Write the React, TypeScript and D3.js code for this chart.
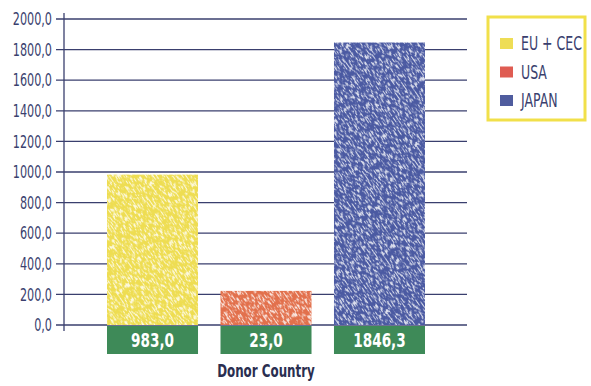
import React from "react";
import * as d3 from "d3";

const categories = ["EU + CEC", "USA", "JAPAN"];
const values = [983.0, 223.0, 1846.3];
const valueLabels = ["983,0", "23,0", "1846,3"];
const yTicks = [0, 200, 400, 600, 800, 1000, 1200, 1400, 1600, 1800, 2000];
const colors = ["#eedd52", "#e2704c", "#4b5aa2"];
const legendColors = ["#eedd55", "#df5c52", "#4f5c9e"];

const FONT = "'DejaVu Sans', sans-serif";
const INK = "#3a3f6e";

function CText({ x, y, anchor = "start", size, sx = 0.78, weight = "normal", fill = INK, children }: any) {
  return (
    <g transform={`translate(${x},${y}) scale(${sx},1)`}>
      <text x={0} y={0} dy="0.36em" textAnchor={anchor} fontFamily={FONT} fontSize={size} fontWeight={weight} fill={fill}>
        {children}
      </text>
    </g>
  );
}

export default function App() {
  const W = 591, H = 386;
  const y = d3.scaleLinear().domain([0, 2000]).range([325, 19]);
  const x = d3.scaleBand<string>().domain(categories).range([107, 425]).paddingInner(0.198).paddingOuter(0);
  const fmt = (v: number) => d3.format(".1f")(v).replace(".", ",");
  return (
    <svg width={W} height={H} style={{ position: "absolute", left: 0, top: 0, background: "#fff" }}>
      <defs>
        <filter id="speck" x="0" y="0" width="100%" height="100%">
          <feTurbulence type="fractalNoise" baseFrequency="0.7 0.2" numOctaves="2" seed="3" result="n" />
          <feColorMatrix in="n" type="matrix" values="0 0 0 0 1  0 0 0 0 1  0 0 0 0 1  0 0 0 -6 3.0" />
        </filter>
        {colors.map((c, i) => (
          <pattern key={i} id={`pat${i}`} patternUnits="userSpaceOnUse" width="120" height="120" patternTransform="rotate(-35)">
            <rect width="120" height="120" fill={c} />
            <rect width="120" height="120" filter="url(#speck)" opacity={0.8} />
          </pattern>
        ))}
      </defs>
      {yTicks.map((t) => (
        <g key={t}>
          <line x1={56} x2={467} y1={y(t)} y2={y(t)} stroke={INK} strokeWidth={1.3} />
          <CText x={52} y={y(t)} anchor="end" size={17} sx={0.66}>{fmt(t)}</CText>
        </g>
      ))}
      <line x1={64} x2={64} y1={13} y2={331} stroke={INK} strokeWidth={1.3} />
      {categories.map((c, i) => (
        <g key={c}>
          <rect x={x(c)} y={y(values[i])} width={x.bandwidth()} height={y(0) - y(values[i])} fill={`url(#pat${i})`} />
          <rect x={x(c)} y={y(0) + 1} width={x.bandwidth()} height={28} fill="#3e8a58" />
          <CText x={(x(c) as number) + x.bandwidth() / 2} y={y(0) + 15} anchor="middle" size={20} weight="bold" fill="#fff" sx={0.68}>
            {valueLabels[i]}
          </CText>
        </g>
      ))}
      <rect x={488} y={17} width={97} height={103} fill="#fff" stroke="#f1e04a" strokeWidth={3} />
      {categories.map((c, i) => (
        <g key={c}>
          <rect x={500} y={38 + i * 28.5} width={13} height={11} fill={legendColors[i]} />
          <CText x={521} y={43.5 + i * 28.5} size={19} sx={0.66}>{c}</CText>
        </g>
      ))}
      <CText x={266} y={371} anchor="middle" size={18} weight="bold" sx={0.66} fill="#2a2e50">Donor Country</CText>
      <CText x={14} y={390} size={13} weight="bold" sx={0.8}>Source: OECD</CText>
    </svg>
  );
}
